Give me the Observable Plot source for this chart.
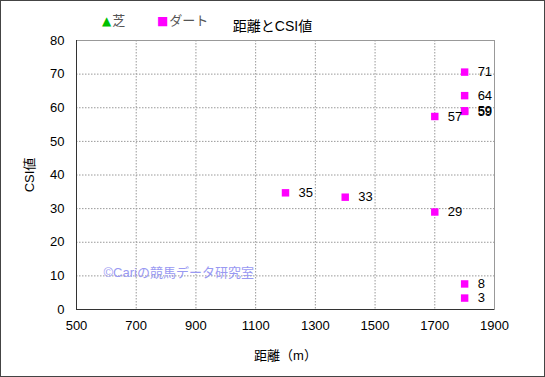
<!DOCTYPE html>
<html>
<head>
<meta charset="utf-8">
<script src="https://cdn.jsdelivr.net/npm/d3@7"></script>
<script src="https://cdn.jsdelivr.net/npm/@observablehq/plot@0.6"></script>
<style>
  html, body { margin: 0; padding: 0; background: #fff; }
  #wrap { position: relative; width: 545px; height: 377px; box-sizing: border-box; border: 1px solid #444; background: #fff; font-family: "Liberation Sans", "Noto Sans CJK JP", sans-serif; overflow: hidden; }
  #header { position: relative; height: 30px; }
  #title { position: absolute; left: 0; width: 543px; top: 15px; text-align: center; font-size: 14px; color: #000; line-height: 20px; }
  .leg { position: absolute; top: 10px; font-size: 13px; color: #555; line-height: 20px; white-space: nowrap; }
  .sym { font-family: "DejaVu Sans", sans-serif; font-size: 12px; margin-right: 1px; }
  #chart svg { display: block; }
</style>
</head>
<body>
<div id="wrap">
  <div id="header"><div id="title"></div></div>
  <div id="chart"></div>
</div>
<script>
// ---- data ----
const titleText = "距離とCSI値";
const xLabel = "距離（m）";
const yLabel = "CSI値";
const watermark = "©Cariの競馬データ研究室";
const legendNames = ["芝", "ダート"];
const legendSymbols = ["▲", "■"];
const legendColors = ["#00c000", "#ff00ff"];
const legendX = [101, 156];
const distances = [1200, 1400, 1700, 1700, 1800, 1800, 1800, 1800, 1800, 1800];
const csiValues = [34.7, 33.4, 57.4, 29.0, 70.6, 63.6, 58.9, 59.1, 7.6, 3.4];
const csiLabels = ["35", "33", "57", "29", "71", "64", "59", "59", "8", "3"];
const xTicks = [500, 700, 900, 1100, 1300, 1500, 1700, 1900];
const yTicks = [0, 10, 20, 30, 40, 50, 60, 70, 80];

const points = distances.map((d, i) => ({x: d, y: csiValues[i], label: csiLabels[i]}));

document.getElementById("title").textContent = titleText;
const header = document.getElementById("header");
legendNames.forEach((n, i) => {
  const div = document.createElement("div");
  div.className = "leg";
  div.style.left = legendX[i] + "px";
  const s = document.createElement("span");
  s.className = "sym";
  s.style.color = legendColors[i];
  s.textContent = legendSymbols[i];
  div.appendChild(s);
  div.appendChild(document.createTextNode(n));
  header.appendChild(div);
});

const font = "Liberation Sans, Noto Sans CJK JP, sans-serif";
const plot = Plot.plot({
  width: 543,
  height: 345,
  marginTop: 9,
  marginBottom: 67,
  marginLeft: 75,
  marginRight: 50,
  style: {fontFamily: font, fontSize: "13px", color: "#000", background: "#fff"},
  x: {domain: [500, 1900], ticks: xTicks},
  y: {domain: [0, 80], ticks: yTicks},
  marks: [
    Plot.gridX(xTicks.slice(1, -1), {stroke: "#999", strokeOpacity: 1, strokeDasharray: "1.5,1.5"}),
    Plot.gridY(yTicks.slice(1, -1), {stroke: "#999", strokeOpacity: 1, strokeDasharray: "1.5,1.5"}),
    Plot.frame({stroke: "#999"}),
    Plot.ruleX([500], {stroke: "#333"}),
    Plot.ruleY([0], {stroke: "#333"}),
    Plot.axisX(xTicks, {tickSize: 0, tickPadding: 11, fontSize: 13, tickFormat: d => String(d), label: xLabel, labelAnchor: "center", labelOffset: 50, labelArrow: "none"}),
    Plot.axisY(yTicks, {tickSize: 0, tickPadding: 12, fontSize: 13, tickFormat: d => String(d), label: yLabel, labelAnchor: "center", labelOffset: 52, labelArrow: "none"}),
    Plot.text([watermark], {frameAnchor: "bottom-left", dx: 27, dy: -37, textAnchor: "start", lineAnchor: "middle", fill: "#9999f2", fontSize: 13}),
    Plot.dot(points, {x: "x", y: "y", symbol: "square", r: 4.2, fill: "#ff00ff", stroke: "none"}),
    Plot.text(points, {x: "x", y: "y", text: "label", dx: 13, textAnchor: "start", fill: "#000", fontSize: 13})
  ]
});
document.getElementById("chart").appendChild(plot);
</script>
</body>
</html>
